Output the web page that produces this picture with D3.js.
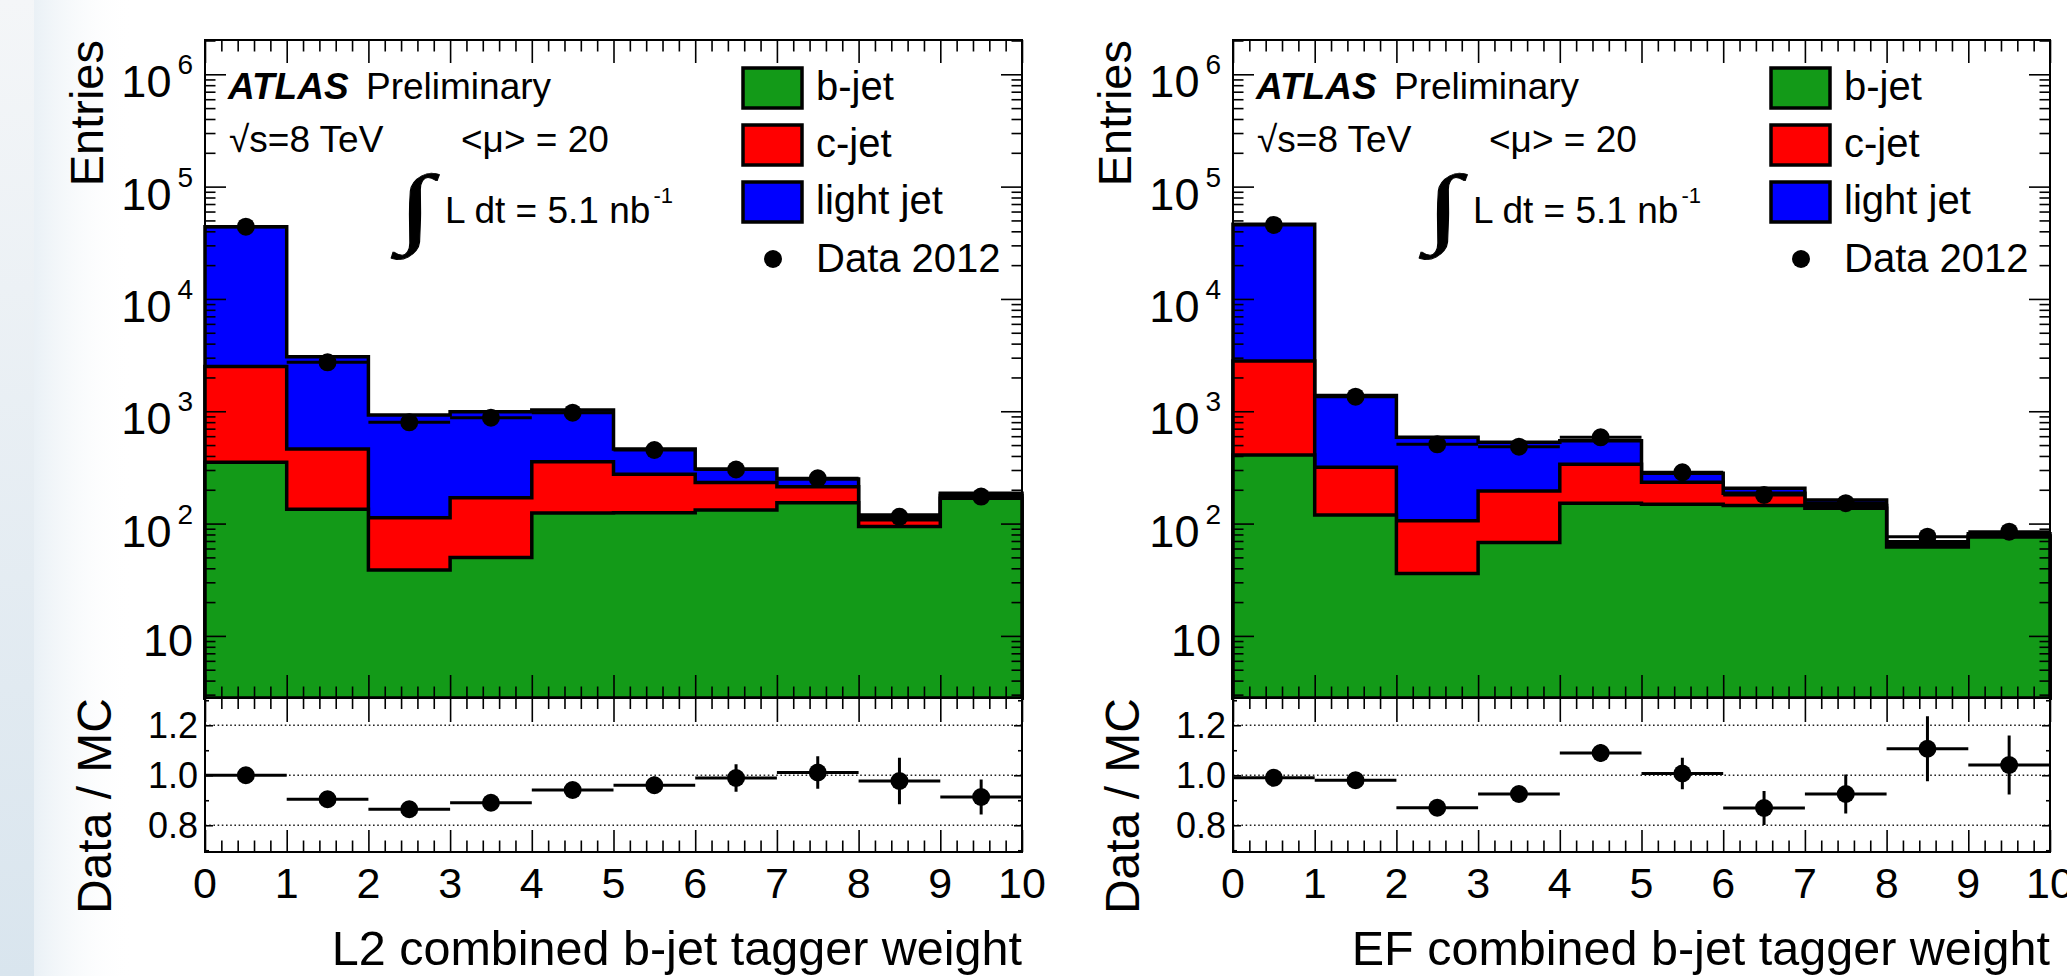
<!DOCTYPE html>
<html>
<head>
<meta charset="utf-8">
<script src="https://cdn.jsdelivr.net/npm/d3@7"></script>
<style>
  html, body { margin: 0; padding: 0; background: #fff; overflow: hidden; }
  svg { display: block; font-family: "Liberation Sans", Arial, Helvetica, sans-serif; }
</style>
</head>
<body>
<svg id="chart" width="2067" height="976"></svg>
<script>
// ---- data ----
const binEdges = [0, 1, 2, 3, 4, 5, 6, 7, 8, 9, 10];
const xTickValues = [0, 1, 2, 3, 4, 5, 6, 7, 8, 9, 10];
const logTickValues = [10, 100, 1e3, 1e4, 1e5, 1e6];
const ratioTickValues = [0.8, 1.0, 1.2];
const ratioTickLabels = ["0.8", "1.0", "1.2"];
const legendLabels = ["b-jet", "c-jet", "light jet", "Data 2012"];
const flavourKeys = ["b", "c", "light"];

// L2 panel (left)
const bjetL2  = [352, 134, 38.6, 50, 124, 125, 132, 153, 94, 168];
const cjetL2  = [2150, 327, 74, 120, 232, 150, 100, 60, 14, 10];
const lightL2 = [41500, 2600, 815, 820, 670, 186, 74, 36, 11, 8];
const dataL2  = [44000, 2730, 798, 877, 972, 452, 303, 253, 115, 174];
const ratioL2    = [1.00, 0.904, 0.864, 0.890, 0.941, 0.960, 0.989, 1.011, 0.977, 0.913];
const ratioErrL2 = [0.005, 0.01, 0.012, 0.015, 0.02, 0.035, 0.055, 0.065, 0.093, 0.07];

// EF panel (right)
const bjetEF  = [408, 119, 35.9, 68, 152, 149, 145, 137, 62, 76];
const cjetEF  = [2400, 198, 70, 127, 185, 84, 41, 8, 3, 2];
const lightEF = [43400, 1061, 480, 335, 210, 48, 20, 17, 4, 3];
const dataEF  = [45600, 1349, 508, 484, 586, 286, 180, 152, 76.4, 84.8];
const ratioEF    = [0.99, 0.98, 0.87, 0.925, 1.089, 1.007, 0.869, 0.925, 1.106, 1.041];
const ratioErrEF = [0.005, 0.01, 0.015, 0.03, 0.035, 0.063, 0.068, 0.078, 0.13, 0.118];

const COLORS = { b: "#139a18", c: "#ff0000", light: "#0000ff" };

// ---- layout ----
const UP_TOP = 40, UP_BOT = 698, LO_BOT = 852;
const svg = d3.select("#chart");

// faint slide background strip on the far left
const defs = svg.append("defs");
const gv = defs.append("linearGradient").attr("id", "strip").attr("x1", 0).attr("y1", 0).attr("x2", 0).attr("y2", 1);
gv.append("stop").attr("offset", "0%").attr("stop-color", "#f4f6f8");
gv.append("stop").attr("offset", "100%").attr("stop-color", "#d9e5ee");
const gh = defs.append("linearGradient").attr("id", "fade").attr("x1", 0).attr("y1", 0).attr("x2", 1).attr("y2", 0);
gh.append("stop").attr("offset", "0%").attr("stop-color", "#e6eef4").attr("stop-opacity", 0.85);
gh.append("stop").attr("offset", "100%").attr("stop-color", "#ffffff").attr("stop-opacity", 0);
svg.append("rect").attr("x", 0).attr("y", 0).attr("width", 34).attr("height", 976).attr("fill", "url(#strip)");
svg.append("rect").attr("x", 34).attr("y", 0).attr("width", 100).attr("height", 976).attr("fill", "url(#fade)");

function drawPanel({ x0, x1, bjet, cjet, light, data, ratio, ratioErr, xTitle }) {
  const g = svg.append("g");

  const x = d3.scaleLinear().domain([0, 10]).range([x0, x1]);
  const y = d3.scaleLog().domain([2.8, 2.02e6]).range([UP_BOT, UP_TOP]);
  const r = d3.scaleLinear().domain([0.693, 1.309]).range([LO_BOT, UP_BOT]);

  // ===== STACKED HISTOGRAMS =====
  const rows = bjet.map((_, i) => ({ b: bjet[i], c: cjet[i], light: light[i] }));
  const layers = d3.stack().keys(flavourKeys)(rows);
  const yMin = y.domain()[0];
  const step = d3.line().x(d => x(d[0])).y(d => y(d[1]));

  layers.slice().reverse().forEach(layer => {
    const pts = [[0, yMin]];
    layer.forEach((d, i) => { pts.push([binEdges[i], d[1]], [binEdges[i + 1], d[1]]); });
    pts.push([10, yMin]);
    g.append("path")
      .attr("d", step(pts) + "Z")
      .attr("fill", COLORS[layer.key])
      .attr("stroke", "#000")
      .attr("stroke-width", 3.5)
      .attr("stroke-linejoin", "miter");
  });

  // ===== DATA (upper) =====
  data.forEach((v, i) => {
    g.append("line")
      .attr("x1", x(binEdges[i])).attr("x2", x(binEdges[i + 1]))
      .attr("y1", y(v)).attr("y2", y(v))
      .attr("stroke", "#000").attr("stroke-width", 3);
    g.append("circle")
      .attr("cx", x(binEdges[i] + 0.5)).attr("cy", y(v)).attr("r", 9).attr("fill", "#000");
  });

  // ===== RATIO PAD =====
  g.append("rect").attr("x", x0).attr("y", UP_BOT).attr("width", x1 - x0).attr("height", LO_BOT - UP_BOT).attr("fill", "#fff");
  ratioTickValues.forEach(v => {
    g.append("line")
      .attr("x1", x0).attr("x2", x1).attr("y1", r(v)).attr("y2", r(v))
      .attr("stroke", "#222").attr("stroke-width", 1.6).attr("stroke-dasharray", "1.6,2.6");
  });
  ratio.forEach((v, i) => {
    const cx = x(binEdges[i] + 0.5);
    g.append("line")
      .attr("x1", x(binEdges[i])).attr("x2", x(binEdges[i + 1]))
      .attr("y1", r(v)).attr("y2", r(v))
      .attr("stroke", "#000").attr("stroke-width", 3);
    g.append("line")
      .attr("x1", cx).attr("x2", cx)
      .attr("y1", r(v - ratioErr[i])).attr("y2", r(v + ratioErr[i]))
      .attr("stroke", "#000").attr("stroke-width", 3);
    g.append("circle").attr("cx", cx).attr("cy", r(v)).attr("r", 9).attr("fill", "#000");
  });

  // ===== AXES / TICKS =====
  const minorX = d3.range(0, 10.001, 0.2).filter(v => Math.abs(v - Math.round(v)) > 1e-6);
  const minorLog = [];
  for (let e = 0; e <= 6; e++) {
    for (let k = 2; k <= 9; k++) {
      const v = k * Math.pow(10, e);
      if (v > y.domain()[0] && v < y.domain()[1]) minorLog.push(v);
    }
  }
  const minorR = [0.7, 0.9, 1.1, 1.3];

  function tickAxis(axis, transform) {
    const a = g.append("g").attr("transform", transform).call(axis.tickSizeOuter(0).tickFormat(""));
    a.select(".domain").remove();
    a.selectAll(".tick line").attr("stroke", "#000").attr("stroke-width", 1.6);
  }

  // upper pad
  tickAxis(d3.axisBottom(x).tickValues(xTickValues).tickSizeInner(-23), `translate(0,${UP_BOT})`);
  tickAxis(d3.axisBottom(x).tickValues(minorX).tickSizeInner(-11.5), `translate(0,${UP_BOT})`);
  tickAxis(d3.axisTop(x).tickValues(xTickValues).tickSizeInner(-23), `translate(0,${UP_TOP})`);
  tickAxis(d3.axisTop(x).tickValues(minorX).tickSizeInner(-11.5), `translate(0,${UP_TOP})`);
  tickAxis(d3.axisLeft(y).tickValues(logTickValues).tickSizeInner(-21), `translate(${x0},0)`);
  tickAxis(d3.axisLeft(y).tickValues(minorLog).tickSizeInner(-10.5), `translate(${x0},0)`);
  tickAxis(d3.axisRight(y).tickValues(logTickValues).tickSizeInner(-21), `translate(${x1},0)`);
  tickAxis(d3.axisRight(y).tickValues(minorLog).tickSizeInner(-10.5), `translate(${x1},0)`);

  // lower pad
  tickAxis(d3.axisBottom(x).tickValues(xTickValues).tickSizeInner(-22), `translate(0,${LO_BOT})`);
  tickAxis(d3.axisBottom(x).tickValues(minorX).tickSizeInner(-11.5), `translate(0,${LO_BOT})`);
  tickAxis(d3.axisTop(x).tickValues(xTickValues).tickSizeInner(-24), `translate(0,${UP_BOT})`);
  tickAxis(d3.axisTop(x).tickValues(minorX).tickSizeInner(-11), `translate(0,${UP_BOT})`);
  tickAxis(d3.axisLeft(r).tickValues(ratioTickValues).tickSizeInner(-8), `translate(${x0},0)`);
  tickAxis(d3.axisLeft(r).tickValues(minorR).tickSizeInner(-4), `translate(${x0},0)`);
  tickAxis(d3.axisRight(r).tickValues(ratioTickValues).tickSizeInner(-8), `translate(${x1},0)`);
  tickAxis(d3.axisRight(r).tickValues(minorR).tickSizeInner(-4), `translate(${x1},0)`);

  // frames
  g.append("rect").attr("x", x0).attr("y", UP_TOP).attr("width", x1 - x0).attr("height", UP_BOT - UP_TOP)
    .attr("fill", "none").attr("stroke", "#000").attr("stroke-width", 2);
  g.append("rect").attr("x", x0).attr("y", UP_BOT).attr("width", x1 - x0).attr("height", LO_BOT - UP_BOT)
    .attr("fill", "none").attr("stroke", "#000").attr("stroke-width", 2);

  // ===== LABELS =====
  logTickValues.forEach(v => {
    const e = Math.round(Math.log10(v));
    const t = g.append("text")
      .attr("x", x0 - 12).attr("fill", "#000")
      .attr("text-anchor", "end").attr("font-size", 45);
    if (e === 1) {
      t.attr("y", y(v) + 20).text("10");
    } else {
      t.attr("y", y(v) + 23);
      t.append("tspan").text("10");
      t.append("tspan").attr("dx", 6).attr("dy", -23).attr("font-size", 28).text(e);
    }
  });

  xTickValues.forEach(v => {
    g.append("text")
      .attr("x", x(v)).attr("y", 898)
      .attr("text-anchor", "middle").attr("font-size", 43).attr("fill", "#000")
      .text(v);
  });

  ratioTickValues.forEach((v, i) => {
    g.append("text")
      .attr("x", x0 - 7).attr("y", r(v) + 13)
      .attr("text-anchor", "end").attr("font-size", 36).attr("fill", "#000")
      .text(ratioTickLabels[i]);
  });

  g.append("text")
    .attr("transform", `translate(${x0 - 102},${UP_TOP}) rotate(-90)`)
    .attr("text-anchor", "end").attr("font-size", 47).attr("fill", "#000")
    .text("Entries");
  g.append("text")
    .attr("transform", `translate(${x0 - 94},${UP_BOT}) rotate(-90)`)
    .attr("text-anchor", "end").attr("font-size", 48).attr("fill", "#000")
    .text("Data / MC");
  g.append("text")
    .attr("x", x1).attr("y", 965)
    .attr("text-anchor", "end").attr("font-size", 48.5).attr("fill", "#000")
    .text(xTitle);

  // ATLAS block
  g.append("text").attr("x", x0 + 23).attr("y", 99)
    .attr("font-size", 37).attr("font-weight", "bold").attr("font-style", "italic").text("ATLAS");
  g.append("text").attr("x", x0 + 161).attr("y", 99).attr("font-size", 37).text("Preliminary");
  g.append("text").attr("x", x0 + 24).attr("y", 152).attr("font-size", 37).text("\u221As=8 TeV");
  g.append("text").attr("x", x0 + 256).attr("y", 152).attr("font-size", 37).text("<\u03BC> = 20");
  g.append("text")
    .attr("transform", `translate(${x0 + 193},236) scale(1.45,1)`)
    .attr("font-family", "'Liberation Serif', 'DejaVu Serif', serif")
    .attr("font-size", 88).attr("stroke", "#000").attr("stroke-width", 0.8)
    .text("\u222B");
  const lum = g.append("text").attr("x", x0 + 240).attr("y", 223).attr("font-size", 37);
  lum.append("tspan").text("L dt = 5.1 nb");
  lum.append("tspan").attr("dx", 3).attr("dy", -20).attr("font-size", 22).text("-1");

  // legend
  const legKeys = ["b", "c", "light"];
  legKeys.forEach((k, i) => {
    const top = 68 + i * 57;
    g.append("rect").attr("x", x0 + 538).attr("y", top).attr("width", 59).attr("height", 40)
      .attr("fill", COLORS[k]).attr("stroke", "#000").attr("stroke-width", 3.5);
    g.append("text").attr("x", x0 + 611).attr("y", top + 32).attr("font-size", 40).text(legendLabels[i]);
  });
  g.append("circle").attr("cx", x0 + 568).attr("cy", 259).attr("r", 9).attr("fill", "#000");
  g.append("text").attr("x", x0 + 611).attr("y", 272).attr("font-size", 40).text(legendLabels[3]);
}

drawPanel({ x0: 205, x1: 1022, bjet: bjetL2, cjet: cjetL2, light: lightL2, data: dataL2,
  ratio: ratioL2, ratioErr: ratioErrL2, xTitle: "L2 combined b-jet tagger weight" });
drawPanel({ x0: 1233, x1: 2050, bjet: bjetEF, cjet: cjetEF, light: lightEF, data: dataEF,
  ratio: ratioEF, ratioErr: ratioErrEF, xTitle: "EF combined b-jet tagger weight" });
</script>
</body>
</html>
